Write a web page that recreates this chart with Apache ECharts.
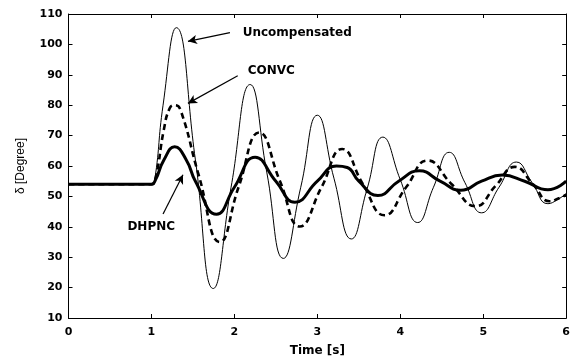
<!DOCTYPE html>
<html>
<head>
<meta charset="utf-8">
<script src="https://cdn.jsdelivr.net/npm/echarts@6/dist/echarts.min.js"></script>
<style>
  html, body { margin: 0; padding: 0; background: #fff; }
  #chart { width: 573px; height: 362px; }
</style>
</head>
<body>
<div id="chart"></div>
<script>
// rotor angle response as [time s, degrees]
const uncompensated = [
  [0, 54], [1.0, 54], [1.04, 55.5], [1.14, 80], [1.30, 105.5], [1.53, 62],
  [1.745, 19.7], [1.96, 53], [2.19, 86.8], [2.39, 58], [2.59, 29.6], [2.80, 53],
  [3.0, 76.7], [3.2, 56], [3.41, 36], [3.60, 52.5], [3.79, 69.5], [4.0, 55.5],
  [4.21, 41.4], [4.40, 53], [4.59, 64.5], [4.78, 54.5], [4.98, 44.6], [5.19, 53],
  [5.40, 61.3], [5.59, 54.5], [5.78, 47.6], [5.9, 49], [6.0, 51]
];
const convc = [
  [0, 54], [1.0, 54], [1.05, 56], [1.15, 72], [1.22, 79], [1.28, 80], [1.35, 78.5],
  [1.57, 57], [1.825, 35], [2.05, 53], [2.30, 71], [2.55, 55], [2.79, 40.1],
  [3.05, 53], [3.30, 65.6], [3.55, 54], [3.81, 43.8], [4.07, 53], [4.33, 61.8],
  [4.62, 54], [4.91, 46.8], [5.15, 53.5], [5.38, 59.7], [5.6, 54], [5.80, 48.4],
  [5.92, 49.5], [6.0, 50.5]
];
const dhpnc = [
  [0, 54], [1.0, 54], [1.05, 55.5], [1.15, 62], [1.28, 66.3], [1.42, 62], [1.53, 55],
  [1.785, 44.1], [2.0, 53], [2.25, 62.9], [2.5, 55], [2.73, 48.1], [3.0, 55],
  [3.23, 60], [3.36, 59.5], [3.5, 55], [3.73, 50.3], [3.98, 55], [4.23, 58.4],
  [4.48, 55], [4.73, 52], [4.98, 55], [5.23, 57], [5.5, 55], [5.78, 52.2], [6.0, 55]
];

// annotation text anchors and arrows, in data coordinates
const labels = [
  { text: 'Uncompensated', at: [2.10, 103.9] },
  { text: 'CONVC', at: [2.16, 91.3] },
  { text: 'DHPNC', at: [0.71, 40] }
];
const arrows = [
  [[1.946, 103.9], [1.44, 101]],
  [[2.04, 89.7], [1.44, 80.6]],
  [[1.14, 44.2], [1.38, 57.1]]
];

const FONT = 'DejaVu Sans, Arial, sans-serif';
const axisText = { color: '#000', fontFamily: FONT, fontSize: 11, fontWeight: 'bold' };

const chart = echarts.init(document.getElementById('chart'));

function frameAxis(extra) {
  return Object.assign({
    type: 'value',
    axisLine: { show: true, onZero: false, lineStyle: { color: '#000', width: 1 } },
    axisTick: { show: true, inside: true, length: 4, lineStyle: { color: '#000' } },
    splitLine: { show: false }
  }, extra);
}

chart.setOption({
  animation: false,
  backgroundColor: '#fff',
  grid: { left: 68.5, right: 6.5, top: 14, bottom: 38 },
  xAxis: [
    frameAxis({
      min: 0, max: 6, interval: 1, position: 'bottom',
      name: 'Time [s]', nameLocation: 'middle', nameGap: 27,
      nameTextStyle: Object.assign({}, axisText, { fontSize: 12 }),
      axisLabel: Object.assign({ margin: 9 }, axisText)
    }),
    frameAxis({ min: 0, max: 6, interval: 1, position: 'top', axisLabel: { show: false } })
  ],
  yAxis: [
    frameAxis({
      min: 10, max: 110, interval: 10, position: 'left',
      name: 'δ [Degree]', nameLocation: 'middle', nameGap: 42,
      nameTextStyle: { color: '#000', fontFamily: 'Liberation Sans, Arial', fontSize: 12 },
      axisLabel: Object.assign({ margin: 6 }, axisText)
    }),
    frameAxis({ min: 10, max: 110, interval: 10, position: 'right', axisLabel: { show: false } })
  ],
  series: [
    {
      name: 'Uncompensated', type: 'line', data: uncompensated, smooth: 0.5,
      showSymbol: false, lineStyle: { color: '#000', width: 1 }
    },
    {
      name: 'CONVC', type: 'line', data: convc, smooth: 0.5,
      showSymbol: false, lineStyle: { color: '#000', width: 2.6, type: [6, 4] }
    },
    {
      name: 'DHPNC', type: 'line', data: dhpnc, smooth: 0.5,
      showSymbol: false, lineStyle: { color: '#000', width: 3 },
      markLine: {
        silent: true,
        symbol: ['none', 'arrow'],
        symbolSize: [7, 9],
        label: { show: false },
        lineStyle: { color: '#000', width: 1.2, type: 'solid' },
        data: arrows.map(a => [{ coord: a[0] }, { coord: a[1] }])
      }
    }
  ]
});

// place the curve labels through the axes
chart.setOption({
  graphic: labels.map(l => {
    const p = chart.convertToPixel({ xAxisIndex: 0, yAxisIndex: 0 }, l.at);
    return {
      type: 'text', x: p[0], y: p[1],
      style: {
        text: l.text, fill: '#000', font: 'bold 12px ' + FONT,
        textVerticalAlign: 'middle', textAlign: 'left'
      }
    };
  })
});
</script>
</body>
</html>
